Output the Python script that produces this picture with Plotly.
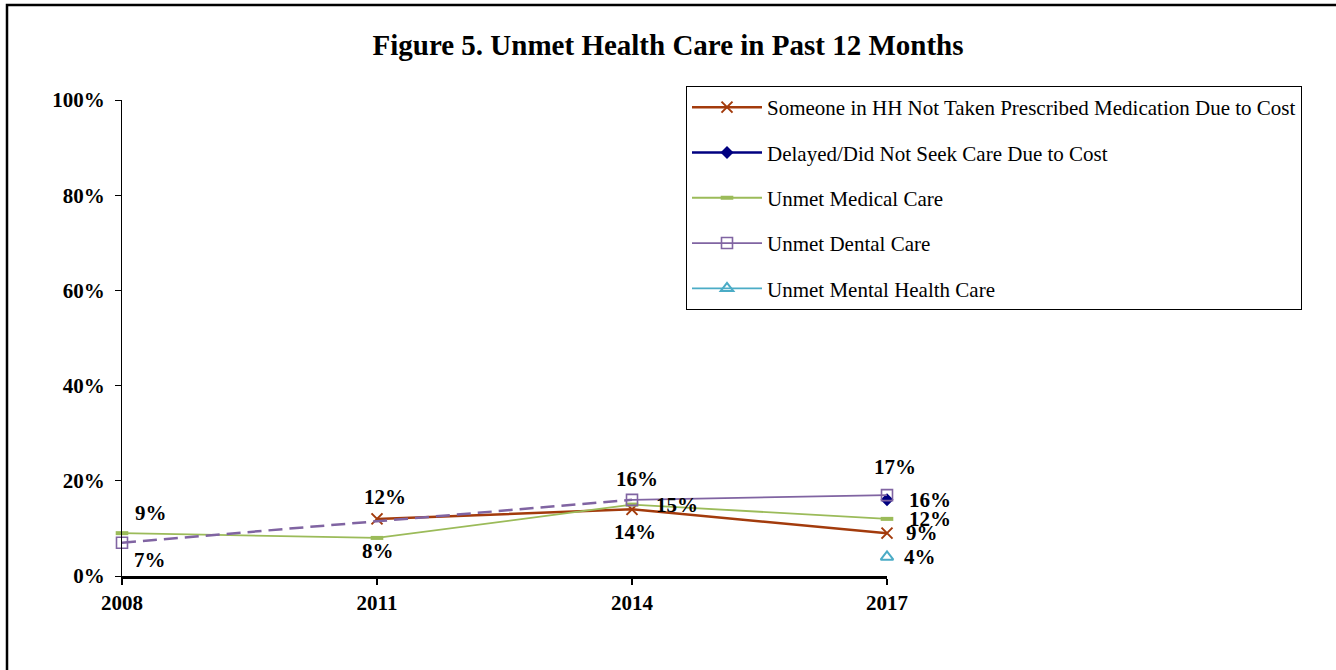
import plotly.graph_objects as go

years = [2008, 2011, 2014, 2017]
medication = [None, 12, 14, 9]
delayed = [None, None, None, 16]
medical = [9, 8, 15, 12]
dental = [7, None, 16, 17]
mental = [None, None, None, 4]

y_ticks = [0, 20, 40, 60, 80, 100]
y_tick_text = [f"{v}%" for v in y_ticks]

SERIF = "Times New Roman, Liberation Serif, serif"
C_MED = "#A33B0C"
C_DEL = "#000080"
C_GRN = "#9BBB59"
C_PUR = "#8064A2"
C_TEAL = "#4BACC6"

fig = go.Figure()

def pts(vals):
    xs = [x for x, v in zip(years, vals) if v is not None]
    ys = [v for v in vals if v is not None]
    return xs, ys

x, y = pts(medication)
fig.add_trace(go.Scatter(
    x=x, y=y, mode="lines+markers", cliponaxis=False,
    name="Someone in HH Not Taken Prescribed Medication Due to Cost",
    line=dict(color=C_MED, width=2.5),
    marker=dict(symbol="x-thin", size=11, line=dict(color=C_MED, width=2)),
    legendgroup="a"))

x, y = pts(delayed)
fig.add_trace(go.Scatter(
    x=x, y=y, mode="lines+markers", cliponaxis=False,
    name="Delayed/Did Not Seek Care Due to Cost",
    line=dict(color=C_DEL, width=2.5),
    marker=dict(symbol="diamond", size=10, color=C_DEL),
    legendgroup="b"))

x, y = pts(medical)
fig.add_trace(go.Scatter(
    x=x, y=y, mode="lines+markers", cliponaxis=False,
    name="Unmet Medical Care",
    line=dict(color=C_GRN, width=1.8),
    marker=dict(symbol="line-ew", size=9, line=dict(color=C_GRN, width=4)),
    legendgroup="c"))

# Dental: dashed connector across the missing 2011 survey, solid afterwards
x, y = pts(dental)
fig.add_trace(go.Scatter(
    x=x[:2], y=y[:2], mode="lines", cliponaxis=False,
    line=dict(color=C_PUR, width=2.5, dash="14px,7px"),
    showlegend=False, hoverinfo="skip"))
fig.add_trace(go.Scatter(
    x=x[1:], y=y[1:], mode="lines", cliponaxis=False,
    line=dict(color=C_PUR, width=1.8),
    showlegend=False, hoverinfo="skip"))
fig.add_trace(go.Scatter(
    x=x, y=y, mode="markers", cliponaxis=False,
    name="Unmet Dental Care", showlegend=False,
    marker=dict(symbol="square-open", size=11, color=C_PUR, line=dict(width=1.6)),
    legendgroup="d"))
fig.add_trace(go.Scatter(
    x=[None], y=[None], mode="lines+markers",
    name="Unmet Dental Care",
    line=dict(color=C_PUR, width=1.8),
    marker=dict(symbol="square-open", size=11, color=C_PUR, line=dict(width=1.6)),
    legendgroup="d"))

x, y = pts(mental)
fig.add_trace(go.Scatter(
    x=x, y=y, mode="lines+markers", cliponaxis=False,
    name="Unmet Mental Health Care",
    line=dict(color=C_TEAL, width=1.8),
    marker=dict(symbol="triangle-up-open", size=11, color=C_TEAL, line=dict(width=2)),
    legendgroup="e"))

# Data labels: (year, value, x offset px, y offset px)
labels = [
    (2008, medical[0], 29, -20),
    (2008, dental[0], 28, 17),
    (2011, medication[1], 8, -22),
    (2011, medical[1], 1, 13),
    (2014, dental[2], 5, -21),
    (2014, medical[2], 45, 0),
    (2014, medication[2], 3, 23),
    (2017, dental[3], 8, -28),
    (2017, delayed[3], 43, 0),
    (2017, medical[3], 43, 0),
    (2017, medication[3], 35, 0),
    (2017, mental[3], 33, 0),
]
for yr, v, dx, dy in labels:
    fig.add_annotation(
        x=yr, y=v, text=f"{v}%", showarrow=False,
        xshift=dx, yshift=-dy,
        font=dict(family=SERIF, size=21, color="black", weight="bold"))

# Outer frame of the chart area
fig.add_shape(type="rect", xref="paper", yref="paper",
              x0=(7 - 122) / 765, x1=(1345 - 122) / 765,
              y0=(576 - 690) / 476, y1=(576 - 5) / 476,
              line=dict(color="black", width=2.5), layer="below")

fig.update_layout(
    width=1336, height=670,
    margin=dict(l=122, r=449, t=100, b=94),
    paper_bgcolor="white", plot_bgcolor="white",
    title=dict(text="<b>Figure 5. Unmet Health Care in Past 12 Months</b>",
               x=0.5, xref="container", y=1 - 45 / 670, yanchor="middle",
               font=dict(family=SERIF, size=29, color="black")),
    showlegend=True,
    legend=dict(x=(686 - 122) / 765, y=(576 - 86) / 476,
                xanchor="left", yanchor="top",
                bordercolor="black", borderwidth=1, bgcolor="white",
                font=dict(family=SERIF, size=21, color="black"),
                tracegroupgap=15, itemwidth=70),
    xaxis=dict(range=[2008, 2017], tickvals=years, ticktext=[str(y) for y in years],
               showgrid=False, zeroline=False, showline=True,
               linecolor="black", linewidth=2.5,
               ticks="outside", ticklen=6, tickcolor="black", tickwidth=1.5,
               tickfont=dict(family=SERIF, size=21, color="black", weight="bold"),
               fixedrange=True),
    yaxis=dict(range=[0, 100], tickvals=y_ticks, ticktext=y_tick_text,
               showgrid=False, zeroline=False, showline=True,
               linecolor="black", linewidth=1,
               ticks="outside", ticklen=6, tickcolor="black",
               ticklabelstandoff=6,
               tickfont=dict(family=SERIF, size=21, color="black", weight="bold"),
               fixedrange=True),
)

fig.write_html("out.html")
